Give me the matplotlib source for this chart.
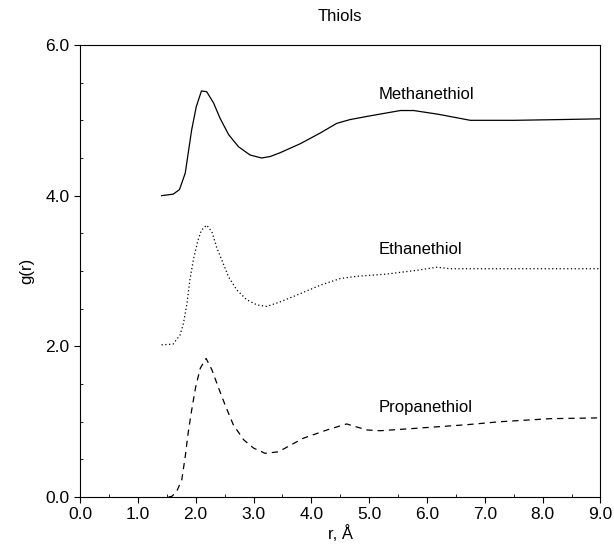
import matplotlib
matplotlib.use("Agg")
import matplotlib.pyplot as plt
from matplotlib.ticker import MultipleLocator, FormatStrFormatter

plt.rcParams["font.family"] = ["Liberation Sans", "DejaVu Sans"]

# values (r in Angstrom, g(r) including vertical offsets)
meth_r = [1.41, 1.61, 1.72, 1.82, 1.87, 1.93, 2.01, 2.10, 2.19, 2.31, 2.42,
          2.57, 2.74, 2.94, 3.14, 3.29, 3.46, 3.81, 4.15, 4.44, 4.67, 5.02,
          5.54, 5.77, 6.20, 6.75, 7.50, 8.30, 9.00]
meth_g = [4.00, 4.02, 4.08, 4.30, 4.56, 4.87, 5.18, 5.39, 5.38, 5.23, 5.03,
          4.81, 4.65, 4.54, 4.50, 4.52, 4.57, 4.69, 4.83, 4.96, 5.01, 5.06,
          5.13, 5.13, 5.08, 5.00, 5.00, 5.01, 5.02]

eth_r = [1.41, 1.61, 1.73, 1.79, 1.85, 1.90, 1.96, 2.04, 2.10, 2.19, 2.28,
         2.36, 2.45, 2.57, 2.71, 2.88, 3.06, 3.23, 3.46, 3.81, 4.15, 4.50,
         4.79, 5.31, 5.83, 6.17, 6.40, 7.20, 8.00, 9.00]
eth_g = [2.02, 2.03, 2.15, 2.31, 2.57, 2.88, 3.15, 3.41, 3.54, 3.61, 3.52,
         3.32, 3.15, 2.92, 2.75, 2.62, 2.55, 2.53, 2.59, 2.70, 2.81, 2.90,
         2.93, 2.96, 3.01, 3.05, 3.03, 3.03, 3.03, 3.03]

prop_r = [1.53, 1.59, 1.67, 1.76, 1.82, 1.87, 1.93, 2.00, 2.08, 2.18, 2.28,
          2.39, 2.51, 2.65, 2.83, 3.00, 3.20, 3.43, 3.86, 4.27, 4.61, 4.96,
          5.19, 5.77, 6.69, 7.27, 8.13, 8.94, 9.00]
prop_g = [0.00, 0.01, 0.07, 0.23, 0.54, 0.85, 1.15, 1.46, 1.71, 1.84, 1.69,
          1.46, 1.22, 0.96, 0.76, 0.65, 0.58, 0.60, 0.78, 0.89, 0.97, 0.89,
          0.88, 0.91, 0.96, 1.00, 1.04, 1.05, 1.05]

labels = ["Methanethiol", "Ethanethiol", "Propanethiol"]
label_y = [5.34, 3.28, 1.19]

fig = plt.figure(figsize=(6.14, 5.46), dpi=100)
ax = fig.add_axes([0.1303, 0.0897, 0.8477, 0.8279])

ax.plot(meth_r, meth_g, color="black", lw=0.9, ls="-")
ax.plot(eth_r, eth_g, color="black", lw=0.9, ls=(0, (1, 2)))
ax.plot(prop_r, prop_g, color="black", lw=0.9, ls=(0, (5, 4)))

for name, y in zip(labels, label_y):
    ax.text(5.17, y, name, fontsize=12, ha="left", va="center")

ax.set_xlim(0, 9)
ax.set_ylim(0, 6)
ax.xaxis.set_major_locator(MultipleLocator(1.0))
ax.xaxis.set_minor_locator(MultipleLocator(0.5))
ax.yaxis.set_major_locator(MultipleLocator(2.0))
ax.yaxis.set_minor_locator(MultipleLocator(0.5))
ax.xaxis.set_major_formatter(FormatStrFormatter("%.1f"))
ax.yaxis.set_major_formatter(FormatStrFormatter("%.1f"))
ax.tick_params(which="major", direction="out", length=4, width=0.8,
               labelsize=12.5)
ax.tick_params(which="minor", direction="in", length=2.5, width=0.6)
for s in ax.spines.values():
    s.set_linewidth(0.8)

ax.set_title("Thiols", fontsize=12, pad=17)
ax.set_xlabel("r, Å", fontsize=12, labelpad=2)
ax.set_ylabel("g(r)", fontsize=12, labelpad=8)

fig.savefig("out.png", dpi=100)
